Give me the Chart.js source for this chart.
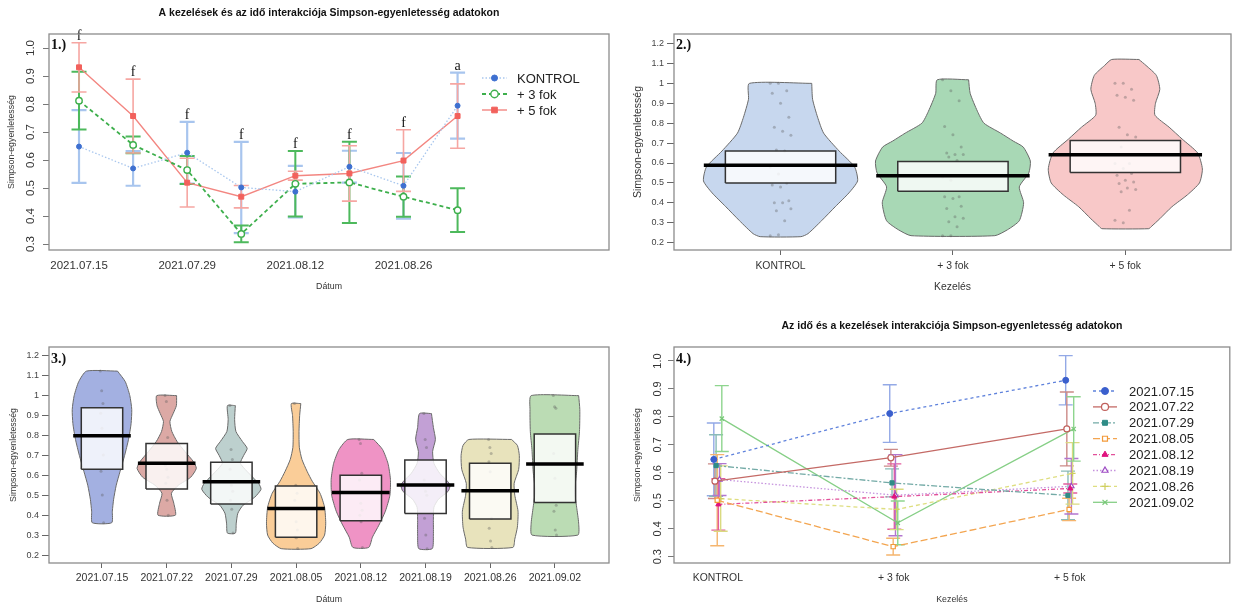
<!DOCTYPE html>
<html>
<head>
<meta charset="utf-8">
<script src="https://cdn.jsdelivr.net/npm/chart.js@4.4.0/dist/chart.umd.min.js"></script>
<style>
  html, body { margin: 0; padding: 0; background: #fff; }
  #wrap { position: relative; width: 1235px; height: 607px; overflow: hidden; }
  #wrap canvas { position: absolute; }
</style>
</head>
<body>
<div id="wrap">
  <canvas id="c1" width="617" height="303" style="left:0;top:0"></canvas>
  <canvas id="c2" width="618" height="303" style="left:617px;top:0"></canvas>
  <canvas id="c3" width="617" height="304" style="left:0;top:303px"></canvas>
  <canvas id="c4" width="618" height="304" style="left:617px;top:303px"></canvas>
</div>
<script>
// ========================================
// Simpson-egyenletesség — 4 panel figure
// ========================================

// ---------- data ----------
const dates = ['2021.07.15', '2021.07.22', '2021.07.29', '2021.08.05', '2021.08.12', '2021.08.19', '2021.08.26', '2021.09.02'];
const treatments = ['KONTROL', '+ 3 fok', '+ 5 fok'];

// means and standard errors (panels 1 and 4)
const meanKontrol = [0.648, 0.570, 0.626, 0.502, 0.487, 0.576, 0.508, 0.794];
const meanPlus3   = [0.812, 0.654, 0.564, 0.336, 0.515, 0.520, 0.469, 0.421];
const meanPlus5   = [0.931, 0.757, 0.519, 0.469, 0.544, 0.552, 0.598, 0.757];
const seKontrol   = [0.130, 0.062, 0.110, 0.163, 0.092, 0.057, 0.117, 0.118];
const sePlus3     = [0.103, 0.030, 0.050, 0.030, 0.117, 0.145, 0.072, 0.078];
const sePlus5     = [0.088, 0.132, 0.087, 0.040, 0.016, 0.099, 0.110, 0.115];
const sigLetters  = ['f', 'f', 'f', 'f', 'f', 'f', 'f', 'a'];

const lineTicks = [0.3, 0.4, 0.5, 0.6, 0.7, 0.8, 0.9, 1.0];
const lineTickLabels = ['0.3', '0.4', '0.5', '0.6', '0.7', '0.8', '0.9', '1.0'];
const dateTickIdx = [0, 2, 4, 6];

const violinTicks = [0.2, 0.3, 0.4, 0.5, 0.6, 0.7, 0.8, 0.9, 1.0, 1.1, 1.2];
const violinTickLabels = ['0.2', '0.3', '0.4', '0.5', '0.6', '0.7', '0.8', '0.9', '1', '1.1', '1.2'];

// panel 2 — pirate plot by treatment
const treatMeans   = [0.589, 0.536, 0.641];
const treatHdiLow  = [0.500, 0.458, 0.552];
const treatHdiHigh = [0.660, 0.608, 0.713];
// violin outline: [value, half width]
const violinKontrol = [[1.0, 0.181], [0.92, 0.186], [0.83, 0.215], [0.75, 0.25], [0.66, 0.34], [0.58, 0.43], [0.51, 0.447], [0.45, 0.397], [0.38, 0.317], [0.31, 0.238], [0.245, 0.159], [0.23, 0.118]];
const violinPlus3 = [[1.018, 0.091], [0.95, 0.1], [0.86, 0.142], [0.80, 0.18], [0.75, 0.277], [0.71, 0.35], [0.68, 0.408], [0.61, 0.449], [0.55, 0.44], [0.48, 0.385], [0.40, 0.41], [0.31, 0.385], [0.265, 0.317], [0.235, 0.243]];
const violinPlus5 = [[1.12, 0.079], [1.09, 0.12], [1.04, 0.18], [0.97, 0.2], [0.9, 0.175], [0.84, 0.172], [0.78, 0.254], [0.72, 0.33], [0.65, 0.42], [0.57, 0.447], [0.5, 0.43], [0.44, 0.36], [0.38, 0.27], [0.32, 0.2], [0.28, 0.15], [0.27, 0.136]];
const dotsKontrol = [1.0, 1.0, 0.963, 0.95, 0.90, 0.83, 0.78, 0.76, 0.74, 0.665, 0.66, 0.58, 0.545, 0.50, 0.49, 0.48, 0.41, 0.40, 0.40, 0.37, 0.36, 0.31, 0.235, 0.24];
const dotsPlus3 = [1.018, 0.963, 0.913, 0.783, 0.742, 0.68, 0.65, 0.643, 0.643, 0.63, 0.613, 0.53, 0.513, 0.43, 0.43, 0.422, 0.383, 0.372, 0.33, 0.322, 0.305, 0.28, 0.235, 0.235];
const dotsPlus5 = [1.0, 1.0, 0.97, 0.94, 0.93, 0.915, 0.78, 0.742, 0.73, 0.68, 0.597, 0.597, 0.572, 0.547, 0.538, 0.513, 0.505, 0.497, 0.475, 0.467, 0.455, 0.363, 0.313, 0.30];

// panel 3 — pirate plot by date
const dateMeans   = [0.799, 0.660, 0.568, 0.434, 0.514, 0.551, 0.523, 0.657];
const dateHdiLow  = [0.631, 0.531, 0.456, 0.289, 0.372, 0.409, 0.381, 0.464];
const dateHdiHigh = [0.939, 0.760, 0.665, 0.546, 0.601, 0.677, 0.660, 0.807];
const violin0715 = [[1.123, 0.24], [1.07, 0.36], [1.0, 0.43], [0.93, 0.46], [0.86, 0.45], [0.78, 0.41], [0.7, 0.35], [0.62, 0.28], [0.55, 0.22], [0.48, 0.18], [0.42, 0.16], [0.362, 0.15]];
const violin0722 = [[1.0, 0.153], [0.95, 0.15], [0.91, 0.1], [0.87, 0.05], [0.82, 0.08], [0.77, 0.16], [0.72, 0.28], [0.67, 0.41], [0.635, 0.458], [0.59, 0.37], [0.55, 0.18], [0.51, 0.073], [0.46, 0.11], [0.4, 0.134]];
const violin0729 = [[0.95, 0.061], [0.88, 0.05], [0.82, 0.07], [0.77, 0.17], [0.735, 0.244], [0.7, 0.19], [0.66, 0.14], [0.6, 0.3], [0.56, 0.42], [0.53, 0.458], [0.49, 0.36], [0.45, 0.18], [0.41, 0.1], [0.36, 0.075], [0.31, 0.061]];
const violin0805 = [[0.96, 0.073], [0.9, 0.055], [0.82, 0.045], [0.74, 0.05], [0.68, 0.09], [0.62, 0.17], [0.57, 0.25], [0.51, 0.37], [0.44, 0.44], [0.36, 0.458], [0.3, 0.44], [0.26, 0.36], [0.232, 0.23]];
const violin0812 = [[0.78, 0.2], [0.73, 0.336], [0.66, 0.42], [0.58, 0.458], [0.5, 0.45], [0.42, 0.38], [0.35, 0.28], [0.29, 0.18], [0.238, 0.122]];
const violin0819 = [[0.91, 0.092], [0.84, 0.122], [0.78, 0.153], [0.72, 0.11], [0.66, 0.13], [0.61, 0.22], [0.57, 0.34], [0.55, 0.38], [0.52, 0.35], [0.48, 0.2], [0.44, 0.13], [0.38, 0.122], [0.3, 0.122], [0.232, 0.104]];
const violin0826 = [[0.78, 0.33], [0.75, 0.42], [0.7, 0.45], [0.63, 0.44], [0.56, 0.37], [0.5, 0.38], [0.42, 0.43], [0.34, 0.42], [0.28, 0.38], [0.238, 0.35]];
const violin0902 = [[1.0, 0.367], [0.93, 0.385], [0.82, 0.38], [0.73, 0.355], [0.62, 0.336], [0.52, 0.306], [0.44, 0.336], [0.36, 0.367], [0.3, 0.354]];
const dots0715 = [1.123, 1.024, 0.961, 0.911, 0.836, 0.702, 0.621, 0.501, 0.362];
const dots0722 = [1.0, 0.97, 0.79, 0.65, 0.63, 0.59, 0.56, 0.475, 0.40];
const dots0729 = [0.95, 0.73, 0.68, 0.63, 0.55, 0.52, 0.475, 0.43, 0.31];
const dots0805 = [0.96, 0.55, 0.51, 0.475, 0.367, 0.325, 0.29, 0.287, 0.233];
const dots0812 = [0.78, 0.76, 0.61, 0.576, 0.46, 0.425, 0.40, 0.367, 0.238];
const dots0819 = [0.91, 0.78, 0.74, 0.576, 0.52, 0.50, 0.384, 0.30, 0.232];
const dots0826 = [0.78, 0.74, 0.71, 0.668, 0.618, 0.384, 0.334, 0.27, 0.238];
const dots0902 = [1.0, 0.944, 0.936, 0.71, 0.585, 0.45, 0.42, 0.325, 0.30];

// ---------- styles ----------
const SANS = "'Liberation Sans', Arial, Helvetica, sans-serif";
const SERIF = "'Liberation Serif', 'Times New Roman', serif";
Chart.defaults.font.family = SANS;
Chart.defaults.color = '#333';
Chart.defaults.animation = false;
Chart.defaults.plugins.legend.display = false;
Chart.defaults.plugins.tooltip.enabled = false;

const treatFills = ['#C7D7EE', '#A8D8B5', '#F8C8C8'];
const dateFills = ['#A3B0E1', '#DCA9A5', '#BDD0CE', '#FACD98', '#EF93C5', '#C2A0D5', '#E8E3BC', '#BBDCB4'];

const dateStyles = [
  { color: '#3A5FCD', line: '#5F82DC', err: '#93A9E6', dash: [3, 3], style: 'circle', open: false },
  { color: '#C0605C', line: '#C46A66', err: '#CC8A87', dash: [], style: 'circle', open: true },
  { color: '#2F8C87', line: '#73AAA6', err: '#8ABBB8', dash: [6, 2, 2, 2], style: 'rect', open: false },
  { color: '#F39A3A', line: '#F3A550', err: '#F5B56E', dash: [7, 3], style: 'rect', open: true },
  { color: '#E0147F', line: '#E2509A', err: '#E35C9E', dash: [4, 2, 1, 2], style: 'triangle', open: false },
  { color: '#9E4CC4', line: '#C592DD', err: '#B276D0', dash: [1.5, 2], style: 'triangle', open: true },
  { color: '#CFCF60', line: '#DEDE80', err: '#DADA80', dash: [4, 3], style: 'cross', open: true },
  { color: '#78C878', line: '#86CF86', err: '#8ED58E', dash: [], style: 'crossRot', open: true }
];

// ---------- shared plugins ----------
const framePlugin = {
  id: 'frame',
  afterDraw(chart) {
    const { ctx, chartArea: a } = chart;
    ctx.save();
    ctx.strokeStyle = '#8c8c8c';
    ctx.lineWidth = 1.3;
    ctx.strokeRect(a.left, a.top, a.right - a.left, a.bottom - a.top);
    ctx.restore();
  }
};

const errorBarPlugin = {
  id: 'errorBars',
  beforeDatasetsDraw(chart) {
    const { ctx, scales: { x, y } } = chart;
    chart.data.datasets.forEach(ds => {
      if (!ds.se) return;
      ctx.save();
      ctx.strokeStyle = ds.errColor;
      ctx.lineWidth = ds.errWidth;
      ds.data.forEach((p, j) => {
        const px = x.getPixelForValue(p.x);
        const top = y.getPixelForValue(p.y + ds.se[j]);
        const bot = y.getPixelForValue(p.y - ds.se[j]);
        const cap = ds.errCap;
        ctx.beginPath();
        ctx.moveTo(px, top); ctx.lineTo(px, bot);
        ctx.moveTo(px - cap, top); ctx.lineTo(px + cap, top);
        ctx.moveTo(px - cap, bot); ctx.lineTo(px + cap, bot);
        ctx.stroke();
      });
      ctx.restore();
    });
  }
};

function rotatedTicks(labels, offset, size) {
  return {
    id: 'rotatedTicks',
    afterDraw(chart) {
      const { ctx, chartArea, scales: { y } } = chart;
      ctx.save();
      ctx.font = size + 'px ' + SANS;
      ctx.fillStyle = '#333';
      ctx.textAlign = 'center';
      ctx.textBaseline = 'middle';
      y.ticks.forEach((t, i) => {
        ctx.save();
        ctx.translate(chartArea.left - offset, y.getPixelForValue(t.value));
        ctx.rotate(-Math.PI / 2);
        ctx.fillText(labels[i], 0, 0);
        ctx.restore();
      });
      ctx.restore();
    }
  };
}

function panelText(tag, title, titleY, tagDy) {
  return {
    id: 'panelText',
    afterDraw(chart) {
      const { ctx, chartArea: a } = chart;
      ctx.save();
      ctx.fillStyle = '#111';
      if (title) {
        ctx.font = 'bold 10.5px ' + SANS;
        ctx.textAlign = 'center';
        ctx.textBaseline = 'middle';
        ctx.fillText(title, (a.left + a.right) / 2, titleY);
      }
      ctx.font = 'bold 14px ' + SERIF;
      ctx.textAlign = 'left';
      ctx.textBaseline = 'alphabetic';
      ctx.fillText(tag, a.left + 2, a.top + tagDy);
      ctx.restore();
    }
  };
}

function insideLegend(lineX0, lineX1, textX, rowY, rowStep) {
  return {
    id: 'insideLegend',
    afterDraw(chart) {
      const { ctx } = chart;
      ctx.save();
      chart.data.datasets.forEach((ds, i) => {
        const y = rowY + i * rowStep;
        ctx.strokeStyle = ds.borderColor;
        ctx.lineWidth = ds.borderWidth;
        ctx.setLineDash(ds.borderDash || []);
        ctx.beginPath();
        ctx.moveTo(lineX0, y); ctx.lineTo(lineX1, y);
        ctx.stroke();
        ctx.setLineDash([]);
        ctx.fillStyle = ds.pointBackgroundColor;
        ctx.strokeStyle = ds.pointBorderColor;
        ctx.lineWidth = ds.pointBorderWidth;
        Chart.helpers.drawPoint(ctx, {
          pointStyle: ds.pointStyle, radius: ds.pointRadius + 0.5, rotation: 0, borderWidth: ds.pointBorderWidth
        }, (lineX0 + lineX1) / 2, y);
        ctx.fillStyle = '#222';
        ctx.font = '13px ' + SANS;
        ctx.textAlign = 'left';
        ctx.textBaseline = 'middle';
        ctx.fillText(ds.label, textX, y + 1);
      });
      ctx.restore();
    }
  };
}

function fixedTicks(values) {
  return scale => { scale.ticks = values.map(v => ({ value: v })); };
}

// ----------------------------------------
// 1. Treatments over time — line chart
// ----------------------------------------
const p1Series = [
  { label: 'KONTROL', mean: meanKontrol, se: seKontrol, line: '#A9C7EE', dash: [1.5, 2], width: 1.3,
    style: 'circle', r: 2.5, fill: '#3E70D0', stroke: '#3E70D0', bw: 1, err: '#A8C5EE', errW: 2.2 },
  { label: '+ 3 fok', mean: meanPlus3, se: sePlus3, line: '#3DAF4C', dash: [4, 3], width: 1.8,
    style: 'circle', r: 3.2, fill: '#ffffff', stroke: '#3DAF4C', bw: 1.4, err: '#4DB95C', errW: 2 },
  { label: '+ 5 fok', mean: meanPlus5, se: sePlus5, line: '#F38681', dash: [], width: 1.4,
    style: 'rect', r: 3.5, fill: '#F2615C', stroke: '#F2615C', bw: 1, err: '#F6A6A2', errW: 1.6 }
];

const letterPlugin = {
  id: 'letters',
  afterDatasetsDraw(chart) {
    const { ctx, scales: { x, y } } = chart;
    ctx.save();
    ctx.font = '14px ' + SERIF;
    ctx.fillStyle = '#111';
    ctx.textAlign = 'center';
    ctx.textBaseline = 'alphabetic';
    sigLetters.forEach((letter, j) => {
      const top = Math.max(...p1Series.map(s => s.mean[j] + s.se[j]));
      ctx.fillText(letter, x.getPixelForValue(j), y.getPixelForValue(top) - 3);
    });
    ctx.restore();
  }
};

new Chart(document.getElementById('c1'), {
  type: 'scatter',
  data: {
    datasets: p1Series.slice().reverse().map(s => ({
      label: s.label,
      data: s.mean.map((v, j) => ({ x: j, y: v })),
      se: s.se, errColor: s.err, errWidth: s.errW, errCap: 7.5,
      showLine: true, tension: 0,
      borderColor: s.line, borderDash: s.dash, borderWidth: s.width,
      pointStyle: s.style, pointRadius: s.r,
      pointBackgroundColor: s.fill, pointBorderColor: s.stroke, pointBorderWidth: s.bw
    })).reverse()
  },
  options: {
    responsive: false,
    layout: { padding: { left: 0, right: 8, top: 34, bottom: 0 } },
    scales: {
      x: {
        type: 'linear', min: -0.555, max: 9.8,
        afterBuildTicks: fixedTicks(dateTickIdx),
        afterFit: s => { s.height = 53; },
        grid: { display: false, drawTicks: false },
        border: { display: false },
        ticks: { callback: v => dates[v], font: { size: 11.5 }, color: '#333', padding: 9, maxRotation: 0, autoSkip: false },
        title: { display: true, text: 'Dátum', font: { size: 8.8 }, color: '#333', padding: { top: 0, bottom: 10.7 } }
      },
      y: {
        min: 0.2786, max: 1.05,
        afterBuildTicks: fixedTicks(lineTicks),
        afterFit: s => { s.width = 49; },
        grid: { drawOnChartArea: false, tickLength: 6, color: '#777' },
        border: { display: false },
        ticks: { display: false },
        title: { display: true, text: 'Simpson-egyenletesség', font: { size: 8.8 }, color: '#333', padding: { top: 6.7, bottom: 0 } }
      }
    }
  },
  plugins: [errorBarPlugin, framePlugin, rotatedTicks(lineTickLabels, 18, 11.5), letterPlugin,
    panelText('1.)', 'A kezelések és az idő interakciója Simpson-egyenletesség adatokon', 13, 15),
    insideLegend(482, 507, 517, 78, 16)]
});

// ----------------------------------------
// Pirate plot helpers (violin + HDI box + mean bar + dots)
// ----------------------------------------
function violinOutline(center, profile) {
  const right = profile.map(([v, w]) => ({ x: center + w, y: v }));
  const left = profile.slice().reverse().map(([v, w]) => ({ x: center - w, y: v }));
  return right.concat(left, [right[0]]);
}

function pirateDatasets(violins, dots, lows, highs, means, fills, jitter) {
  const sets = [];
  violins.forEach((profile, i) => {
    sets.push({
      data: [{ x: i - 0.445, y: means[i] }, { x: i + 0.445, y: means[i] }],
      showLine: true, borderColor: '#000', borderWidth: 3.5, pointRadius: 0, order: 0
    });
    sets.push({
      data: [{ x: i - 0.32, y: lows[i] }, { x: i + 0.32, y: lows[i] }, { x: i + 0.32, y: highs[i] },
             { x: i - 0.32, y: highs[i] }, { x: i - 0.32, y: lows[i] }],
      showLine: true, fill: 'shape', backgroundColor: 'rgba(255,255,255,0.82)',
      borderColor: '#333', borderWidth: 1.5, pointRadius: 0, order: 1
    });
    sets.push({
      data: dots[i].map((v, k) => ({ x: i + ((k * 37) % 11 - 5) * jitter, y: v })),
      pointRadius: 1.5, pointBackgroundColor: 'rgba(90,90,90,0.35)', pointBorderWidth: 0, order: 2
    });
    sets.push({
      data: violinOutline(i, profile),
      showLine: true, fill: 'shape', tension: 0.2, backgroundColor: fills[i],
      borderColor: '#6a6a6a', borderWidth: 1, pointRadius: 0, order: 3
    });
  });
  return sets;
}

function pirateOptions(xMin, xMax, labels, xFont, xPad, yPadLeft, rightPad, topPad, bottomH, yTitle, xTitle) {
  return {
    responsive: false,
    layout: { padding: { left: 0, right: rightPad, top: topPad, bottom: 0 } },
    scales: {
      x: {
        type: 'linear', min: xMin, max: xMax,
        afterBuildTicks: fixedTicks(labels.map((_, i) => i)),
        afterFit: s => { s.height = bottomH; },
        grid: { drawOnChartArea: false, tickLength: 5, color: '#666' },
        border: { display: false },
        ticks: { callback: v => labels[v], font: { size: xFont }, color: '#333', padding: xPad, maxRotation: 0, autoSkip: false },
        title: xTitle
      },
      y: {
        min: yPadLeft.min, max: yPadLeft.max,
        afterBuildTicks: fixedTicks(violinTicks),
        afterFit: s => { s.width = yPadLeft.width; },
        grid: { drawOnChartArea: false, tickLength: 7, color: '#666' },
        border: { display: false },
        ticks: { callback: (v, i) => violinTickLabels[i], font: { size: 9 }, color: '#444', padding: 3 },
        title: yTitle
      }
    }
  };
}

// ----------------------------------------
// 2. Treatments — pirate plot
// ----------------------------------------
new Chart(document.getElementById('c2'), {
  type: 'scatter',
  data: {
    datasets: pirateDatasets([violinKontrol, violinPlus3, violinPlus5], [dotsKontrol, dotsPlus3, dotsPlus5],
      treatHdiLow, treatHdiHigh, treatMeans, treatFills, 0.012)
  },
  options: pirateOptions(-0.618, 2.613, treatments, 10.4, 5,
    { min: 0.163, max: 1.248, width: 57 }, 2, 34, 53,
    { display: true, text: 'Simpson-egyenletesség', font: { size: 10.5 }, color: '#333', padding: { top: 14.7, bottom: 0 } },
    { display: true, text: 'Kezelés', font: { size: 10.4 }, color: '#333', padding: { top: 0, bottom: 9.7 } }),
  plugins: [framePlugin, panelText('2.)', null, 0, 15)]
});

// ----------------------------------------
// 3. Dates — pirate plot
// ----------------------------------------
new Chart(document.getElementById('c3'), {
  type: 'scatter',
  data: {
    datasets: pirateDatasets(
      [violin0715, violin0722, violin0729, violin0805, violin0812, violin0819, violin0826, violin0902],
      [dots0715, dots0722, dots0729, dots0805, dots0812, dots0819, dots0826, dots0902],
      dateHdiLow, dateHdiHigh, dateMeans, dateFills, 0.005)
  },
  options: pirateOptions(-0.819, 7.836, dates, 10.5, 4,
    { min: 0.16, max: 1.244, width: 49 }, 8, 44, 44,
    { display: true, text: 'Simpson-egyenletesség', font: { size: 8.8 }, color: '#333', padding: { top: 8.7, bottom: 0 } },
    { display: true, text: 'Dátum', font: { size: 8.8 }, color: '#333', padding: { top: 0, bottom: 1.7 } }),
  plugins: [framePlugin, panelText('3.)', null, 0, 16)]
});

// ----------------------------------------
// 4. Dates across treatments — line chart
// ----------------------------------------
const treatMeansByDate = dates.map((_, d) => [meanKontrol[d], meanPlus3[d], meanPlus5[d]]);
const treatSeByDate = dates.map((_, d) => [seKontrol[d], sePlus3[d], sePlus5[d]]);

new Chart(document.getElementById('c4'), {
  type: 'scatter',
  data: {
    datasets: dates.map((d, i) => {
      const st = dateStyles[i];
      const off = (i - 3.5) * 0.0065;
      return {
        label: d,
        data: treatMeansByDate[i].map((v, t) => ({ x: t + off, y: v })),
        se: treatSeByDate[i], errColor: st.err, errWidth: 1.4, errCap: 7,
        showLine: true, tension: 0,
        borderColor: st.line, borderDash: st.dash, borderWidth: 1.3,
        pointStyle: st.style, pointRadius: 3,
        pointBackgroundColor: st.open ? '#ffffff' : st.color,
        pointBorderColor: st.color, pointBorderWidth: st.open ? 1.2 : 1
      };
    })
  },
  options: {
    responsive: false,
    layout: { padding: { left: 0, right: 2, top: 44, bottom: 0 } },
    scales: {
      x: {
        type: 'linear', min: -0.249, max: 2.91,
        afterBuildTicks: fixedTicks([0, 1, 2]),
        afterFit: s => { s.height = 44; },
        grid: { display: false, drawTicks: false },
        border: { display: false },
        ticks: { callback: v => treatments[v], font: { size: 10.4 }, color: '#333', padding: 9, maxRotation: 0, autoSkip: false },
        title: { display: true, text: 'Kezelés', font: { size: 8.8 }, color: '#333', padding: { top: 0, bottom: 1.7 } }
      },
      y: {
        min: 0.2775, max: 1.05,
        afterBuildTicks: fixedTicks(lineTicks),
        afterFit: s => { s.width = 57; },
        grid: { drawOnChartArea: false, tickLength: 6, color: '#777' },
        border: { display: false },
        ticks: { display: false },
        title: { display: true, text: 'Simpson-egyenletesség', font: { size: 8.8 }, color: '#333', padding: { top: 15.7, bottom: 0 } }
      }
    }
  },
  plugins: [errorBarPlugin, framePlugin, rotatedTicks(lineTickLabels, 16, 11),
    panelText('4.)', 'Az idő és a kezelések interakciója Simpson-egyenletesség adatokon', 23, 16),
    insideLegend(476, 500, 512, 88, 15.9)]
});
</script>
</body>
</html>
